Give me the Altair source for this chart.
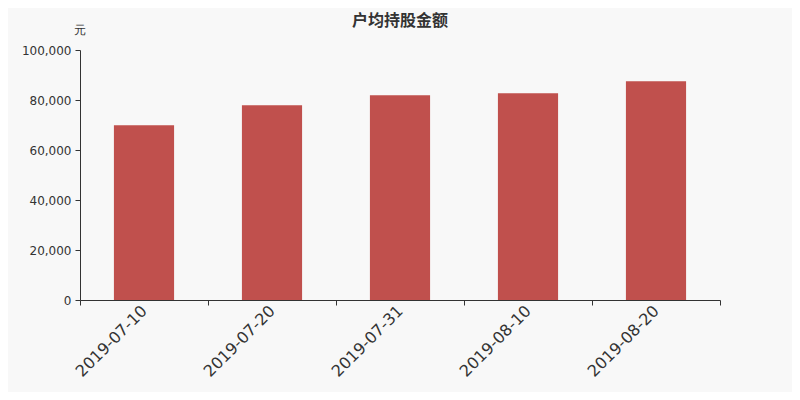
import altair as alt
import pandas as pd

dates = ["2019-07-10", "2019-07-20", "2019-07-31", "2019-08-10", "2019-08-20"]
values = [69900, 77900, 81900, 82700, 87500]

df = pd.DataFrame({"date": dates, "value": values})

chart = alt.Chart(df).mark_bar(color="#c0504d", width={"band": 0.47}).encode(
    x=alt.X("date:N", sort=None, title=None,
            scale=alt.Scale(paddingInner=0, paddingOuter=0),
            axis=alt.Axis(labelAngle=-45, labelFontSize=16, labelColor="#333",
                          labelFont="DejaVu Sans", tickBand="extent", tickSize=5,
                          tickColor="#333", domainColor="#333", labelPadding=3,
                          labelAlign="right", labelBaseline="middle")),
    y=alt.Y("value:Q", title="元",
            scale=alt.Scale(domain=[0, 100000]),
            axis=alt.Axis(values=[0, 20000, 40000, 60000, 80000, 100000],
                          labelExpr="format(datum.value, ',')",
                          labelFontSize=12, labelColor="#333", labelFont="DejaVu Sans",
                          tickSize=5, tickColor="#333", domainColor="#333", grid=False,
                          titleAngle=0, titleX=-1, titleY=-21, titleAlign="center",
                          titleBaseline="middle", titleFontSize=12, titleFontWeight="normal",
                          titleColor="#333", titleFont="DejaVu Sans", labelPadding=4)),
).properties(
    width=640, height=250,
    title=alt.TitleParams("户均持股金额", fontSize=16, fontWeight="bold", color="#333",
                          anchor="middle", frame="group", offset=-6,
                          font="Noto Sans CJK SC"),
    autosize=alt.AutoSizeParams(type="none"),
    padding={"left": 72, "top": 42, "right": 72, "bottom": 92},
    background="#f8f8f8",
).configure_view(stroke=None)

chart.save("out.html", embed_options={"renderer": "svg", "actions": False})
